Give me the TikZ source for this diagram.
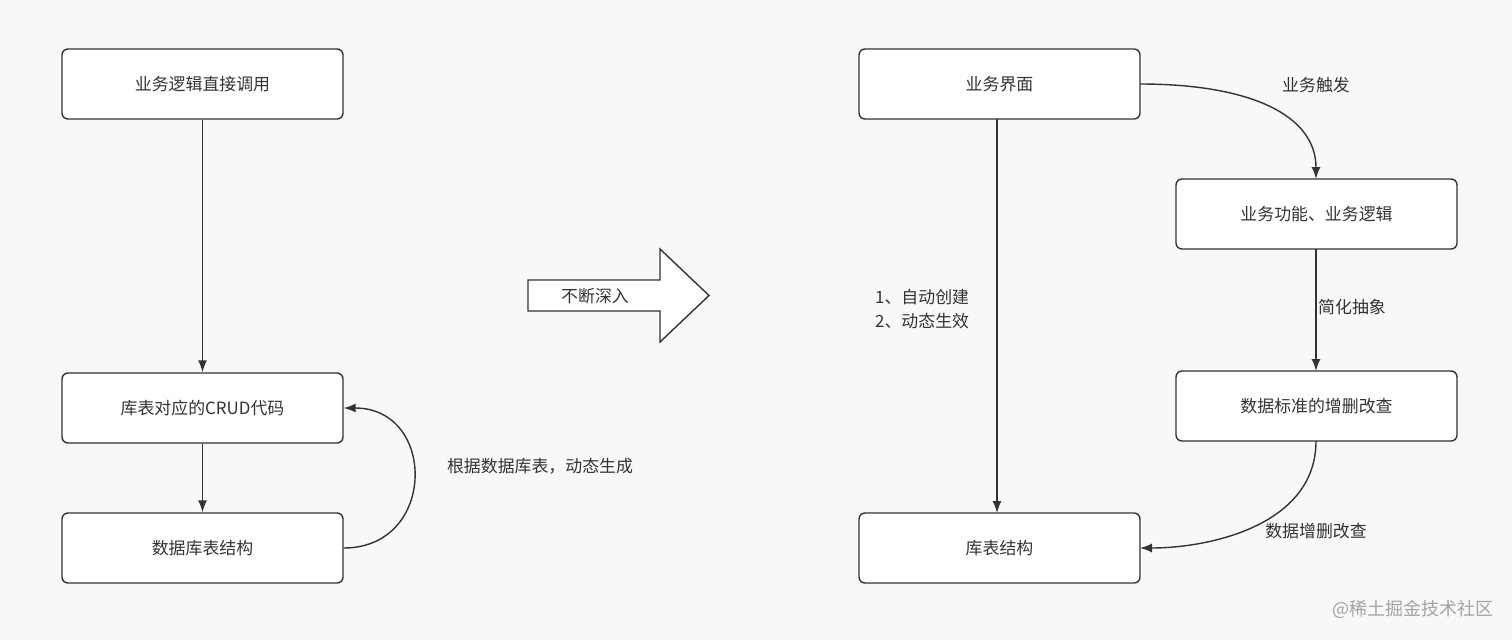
\documentclass[tikz,border=0pt]{standalone}
\usepackage{fontspec}
\setmainfont{Noto Sans CJK SC}
\usetikzlibrary{arrows.meta}
\definecolor{bgc}{HTML}{F8F8F8}
\definecolor{ink}{HTML}{333333}
\tikzset{
  box/.style={draw=ink, line width=1.4pt, fill=white, rounded corners=6pt, minimum width=281pt, minimum height=70pt, inner sep=0pt, text=ink, font=\fontsize{16.9}{20}\selectfont},
  lbl/.style={text=ink, font=\fontsize{16.9}{20}\selectfont, inner sep=0pt},
  conn/.style={draw=ink, line width=1.4pt, -{Latex[length=12pt,width=9pt]}},
}
\begin{document}
\begin{tikzpicture}[x=1pt,y=-1pt]
\fill[bgc] (0,0) rectangle (1512,640);
\useasboundingbox (0,0) rectangle (1512,640);
% left column
\node[box] (l1) at (202.5,84) {业务逻辑直接调用};
\node[box] (l2) at (202.5,408) {库表对应的CRUD代码};
\node[box] (l3) at (202.5,548) {数据库表结构};
\draw[conn] (l1.south) -- (l2.north);
\draw[conn] (l2.south) -- (l3.north);
\draw[conn] (l3.east) .. controls (437,548) and (437,408) .. (l2.east);
\node[lbl] (t1) at (540,466) {根据数据库表，动态生成};
% big arrow
\draw[draw=ink, line width=1.4pt, fill=white] (528,280) -- (660,280) -- (660,249) -- (709,295.5) -- (660,342) -- (660,311) -- (528,311) -- cycle;
\node[lbl] (t2) at (595,296) {不断深入};
% right column
\node[box] (r1) at (999.5,84) {业务界面};
\node[box] (r2) at (1316.5,214) {业务功能、业务逻辑};
\node[box] (r3) at (1316.5,406) {数据标准的增删改查};
\node[box] (r4) at (999.5,548) {库表结构};
\coordinate (r1e) at (1140,84);
\coordinate (r2n) at (1316,179);
\coordinate (r2s) at (1316,249);
\coordinate (r3n) at (1316,371);
\coordinate (r3s) at (1316,441);
\coordinate (r4e) at (1140,548);
\draw[conn] (997,119) -- (997,513);
\draw[conn] (r1e) .. controls (1250,84) and (1316,115) .. (r2n);
\draw[conn] (r2s) -- (r3n);
\draw[conn] (r3s) .. controls (1316,525) and (1210,548) .. (r4e);
\node[lbl, align=left, anchor=west] (t3) at (875,309) {1、自动创建\\[4pt]2、动态生效};
\node[lbl] (t4) at (1316,85) {业务触发};
\node[lbl] (t5) at (1352,307) {简化抽象};
\node[lbl] (t6) at (1316,531) {数据增删改查};
\node[text=ink!45, font=\fontsize{18}{22}\selectfont, inner sep=0pt] (wm) at (1413,609) {@稀土掘金技术社区};
\end{tikzpicture}
\end{document}
